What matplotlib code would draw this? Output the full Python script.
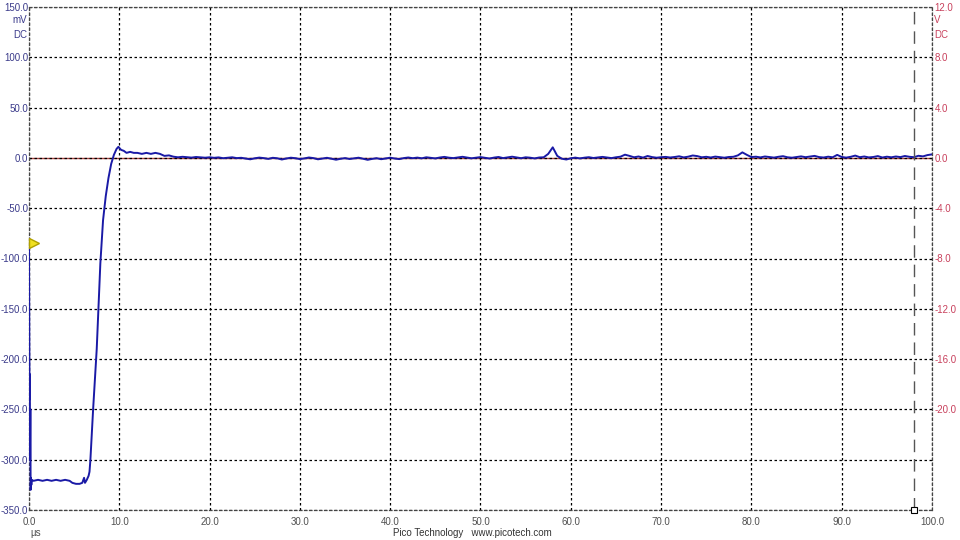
import numpy as np
import matplotlib.pyplot as plt

plt.rcParams['font.family'] = ['Liberation Sans', 'DejaVu Sans']

# channel A trace: fast edge at the start (time in us, value in mV)
edge_t = [0.0, 0.03, 0.06, 0.09, 0.12, 0.15, 0.18, 0.22, 0.26, 0.3, 0.5, 1.0, 1.5, 2.0,
          2.5, 3.0, 3.5, 4.0, 4.5, 4.8, 5.2, 5.6, 5.9, 6.1, 6.2, 6.4, 6.6, 6.7, 6.8,
          7.1, 7.5, 7.9, 8.2, 8.5, 8.8, 9.1, 9.4, 9.7, 9.9, 10.2, 10.5, 10.8, 11.2,
          11.6, 12.0, 12.5, 13.0, 13.5, 14.0, 14.5, 15.0]
edge_mv = [-88, -170, -240, -215, -300, -250, -330, -318, -325, -320, -321, -320, -321, -320,
           -321, -320, -321, -320, -321, -323, -324, -324, -323, -318, -323, -320, -316, -312, -300,
           -250, -190, -105, -62, -38, -20, -6, 3, 9, 11, 8, 7, 5, 6,
           5, 5, 4, 5, 4, 5, 4, 2]

# settled part, sampled every 0.5 us from 15.5 to 100 us
tail_t = np.arange(15.5, 100.01, 0.5)
tail_mv = [2.5, 1.2, 0.6, 1.1, 0.7, 0.3, 0.9, 0.5, 0.2, 0.6,
           0.1, 0.5, -0.3, 0.2, 0.6, -0.2, 0.1, -0.7, -1.4, -0.4,
           0.3, -0.2, -1.0, 0.1, -0.4, -1.6, -0.6, 0.2, -0.3, -1.2,
           -0.5, 0.4, -0.2, -1.4, -0.6, 0.1, -0.8, -1.8, -0.9, -0.2,
           -1.1, -0.4, 0.2, -0.9, -1.9, -1.0, -0.3, -1.3, -0.5, 0.2,
           -0.6, -1.2, -0.2, 0.4, -0.3, 0.3, -0.4, 0.6, 0.1, -0.5,
           0.4, 1.0, 0.2, -0.2, 0.5, 1.1, 0.3, -0.4, 0.2, 0.8,
           0.1, -0.6, 0.3, 0.9, -0.2, 0.5, 1.2, 0.4, -0.3, 0.6,
           0.2, -0.5, 0.4, 0.6, 4.0, 10.5, 2.0, -0.8, -1.6, -0.4,
           0.3, -0.5, 0.2, 0.7, -0.1, 0.5, 1.0, 0.4, -0.2, 0.6,
           1.2, 3.2, 2.0, 0.6, 1.4, 0.3, 1.9, 0.8, 0.2, 0.7,
           1.0, 0.4, 0.9, 1.6, 0.5, 1.2, 2.4, 1.8, 0.6, 1.1,
           0.4, 1.3, 0.7, 0.2, 0.9, 1.1, 2.5, 5.5, 3.0, 0.8,
           1.2, 0.5, 1.4, 0.8, 0.3, 1.1, 1.7, 0.6, 0.2, 0.9,
           1.5, 0.7, 1.3, 2.0, 0.8, 0.4, 1.2, 0.6, 3.0, 0.9,
           0.3, 1.1, 2.3, 0.7, 1.4, 0.5, 0.9, 1.8, 0.4, 1.2,
           0.6, 1.4, 0.8, 1.9, 1.1, 0.7, 2.1, 1.5, 2.8, 3.5]

time_us = np.concatenate([edge_t, tail_t])
chA_mv = np.concatenate([edge_mv, tail_mv])

# channel B (V) is flat at zero
chB_t = [0, 100]
chB_v = [0.0, 0.0]

left_ticks = [150, 100, 50, 0, -50, -100, -150, -200, -250, -300, -350]
right_ticks = [12, 8, 4, 0, -4, -8, -12, -16, -20]
x_ticks = [0, 10, 20, 30, 40, 50, 60, 70, 80, 90, 100]
trigger_mv = -85
cursor_t = 98.0

blue = '#1a1aa6'
left_col = '#3a3a8a'
right_col = '#c8405c'
fs = 7

fig = plt.figure(figsize=(9.6, 5.4), dpi=100)
ax = fig.add_axes([29/960, 30/540, 903/960, 503/540])
ax2 = ax.twinx()

ax.set_xlim(0, 100)
ax.set_ylim(-350, 150)
ax2.set_ylim(-28, 12)

ax2.plot(chB_t, chB_v, color='#a8403c', lw=1.0, zorder=2)
ax.plot(time_us, chA_mv, color=blue, lw=1.4, zorder=3)
ax.set_zorder(ax2.get_zorder() + 1)
ax.patch.set_visible(False)

ax.set_xticks(x_ticks)
ax.set_xticklabels(['%.1f' % v for v in x_ticks])
ax.set_yticks(left_ticks)
ax.set_yticklabels(['%.1f' % v for v in left_ticks])
ax2.set_yticks(right_ticks)
ax2.set_yticklabels(['%.1f' % v for v in right_ticks])

ax.grid(True, color='black', linestyle=(0, (2, 2)), lw=0.9)
for s in ['left', 'right', 'top', 'bottom']:
    ax.spines[s].set_linestyle((0, (2, 2)))
    ax.spines[s].set_linewidth(0.9)
    ax.spines[s].set_color('#444444')
    ax2.spines[s].set_visible(False)

ax.tick_params(axis='y', length=0, pad=0.5, labelsize=fs, labelcolor=left_col)
ax.tick_params(axis='x', length=0, pad=5, labelsize=fs, labelcolor='#505050')
ax2.tick_params(axis='y', length=0, pad=2, labelsize=fs, labelcolor=right_col)

# unit labels
fig.text(27/960, 1 - 20/540, 'mV', ha='right', va='center', fontsize=fs, color=left_col)
fig.text(27/960, 1 - 35/540, 'DC', ha='right', va='center', fontsize=fs, color=left_col)
fig.text(934/960, 1 - 20/540, 'V', ha='left', va='center', fontsize=fs, color=right_col)
fig.text(934/960, 1 - 35/540, 'DC', ha='left', va='center', fontsize=fs, color=right_col)
fig.text(30/960, 1 - 533/540, 'µs', ha='left', va='center', fontsize=fs, color='#505050')
fig.text(472/960, 1 - 533/540, 'Pico Technology   www.picotech.com', ha='center', va='center',
         fontsize=fs, color='#333333')

# trigger marker and time cursor
ax.plot(0.5, trigger_mv, marker='>', color='#f0e020', markeredgecolor='#b0a000', ms=7,
        clip_on=False, zorder=5)
ax.axvline(cursor_t, color='#555555', lw=1.0, linestyle=(0, (9, 5)), zorder=4)
ax.plot(cursor_t, -350, marker='s', ms=5, mfc='white', mec='black', mew=0.8,
        clip_on=False, zorder=6)

fig.savefig('out.png', dpi=100)
